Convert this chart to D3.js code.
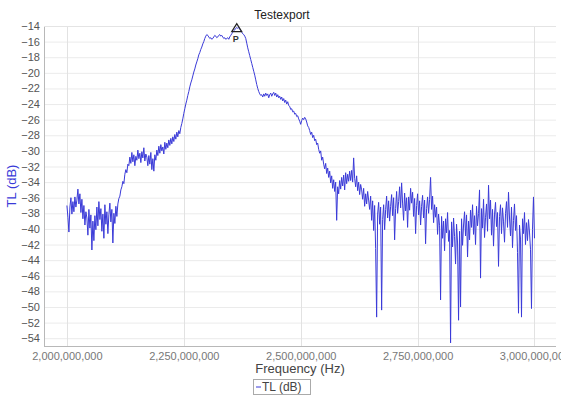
<!DOCTYPE html>
<html>
<head>
<meta charset="utf-8">
<script src="https://cdn.jsdelivr.net/npm/d3@7"></script>
<style>
  html, body { margin: 0; padding: 0; background: #fff; }
  svg { display: block; font-family: "Liberation Sans", Arial, sans-serif; }
</style>
</head>
<body>
<svg id="chart" width="561" height="399"></svg>
<script>
// Sweep definition (Hz)
const sweepStart = 2000000000;
const sweepStop = 3000000000;

// Axis ticks
const xTicks = [2000000000, 2250000000, 2500000000, 2750000000, 3000000000];
const yTicks = [-54, -52, -50, -48, -46, -44, -42, -40, -38, -36, -34, -32, -30, -28, -26, -24, -22, -20, -18, -16, -14];

// Measured transmission loss along the sweep (dB)
const tlLow = [
  -37.0, -38.5, -40.4, -37.2, -36.0, -38.1, -36.5, -37.8, -35.9, -37.2,
  -36.3, -34.9, -36.8, -35.5, -37.9, -36.2, -38.7, -37.0, -39.5, -37.8,
  -38.6, -40.8, -37.5, -39.9, -38.2, -42.7, -39.0, -41.5, -38.3, -40.1,
  -37.2, -39.6, -36.5, -38.8, -37.4, -40.3, -38.1, -41.2, -36.9, -39.4,
  -37.8, -40.6, -38.2, -36.7, -39.1, -37.5, -41.8, -38.0, -39.3, -37.1,
  -38.4, -36.8, -36.1,
  -35.8, -35.0, -34.6, -33.9, -34.2, -33.0, -32.4, -32.8, -31.7, -31.9
];
const tlShelf = [
  -30.8, -31.6, -30.2, -31.4, -30.5, -31.9, -30.7, -31.2, -29.9, -31.0,
  -30.3, -31.5, -30.1, -30.9, -29.6, -31.3, -30.4, -30.8, -31.9, -30.6,
  -31.7, -30.2, -32.4, -31.0, -32.6, -30.5, -31.2, -29.9, -30.6, -29.4,
  -30.3, -29.2, -30.0, -29.5, -30.4, -28.9, -29.8, -29.0, -29.6, -28.6,
  -29.3, -28.4, -29.1, -28.2, -28.8, -27.9, -28.5, -27.6, -28.2, -27.4,
  -27.8, -27.0
];
const tlPassband = [
  -26.5, -25.9, -25.2, -24.6, -24.0, -23.5, -22.9, -22.4, -21.8, -21.3,
  -20.9, -20.4, -19.9, -19.5, -19.0, -18.6, -18.2, -17.7, -17.4, -17.0,
  -16.7, -16.3, -16.0, -15.6, -15.3, -15.1,
  -15.2, -15.4, -15.6, -15.5, -15.7, -15.6, -15.4, -15.2, -15.3, -15.5,
  -15.4, -15.2, -15.1, -15.3, -15.2, -15.4, -15.6, -15.5, -15.7, -15.6,
  -15.5, -15.7, -15.4, -15.2, -15.0, -14.8, -14.6, -14.5, -14.3, -14.2,
  -14.3, -14.2, -14.4, -14.6, -14.8, -15.0, -15.1, -15.3, -15.6, -16.2,
  -16.8, -17.3, -17.8, -18.3, -18.8, -19.3, -19.8, -20.3, -20.9, -21.5,
  -22.0, -22.4, -22.7, -22.9,
  -22.8, -23.1, -22.7, -23.0, -22.6, -22.9, -22.7, -23.2, -22.8, -22.6,
  -23.0, -22.7, -22.5, -22.9, -22.6, -23.1, -22.8, -23.2, -23.0, -23.4,
  -23.1, -23.6, -23.3, -23.8, -23.5, -24.0, -23.7, -24.2
];
const tlRolloff = [
  -24.3, -24.7, -24.6, -25.0, -24.9, -25.3, -25.2, -25.6, -25.5, -25.9,
  -26.2, -26.6, -26.1, -25.8, -26.0, -25.7, -25.9, -26.3, -26.8, -27.0,
  -27.4, -27.9, -27.6, -28.3, -28.0, -28.7, -28.5, -29.2, -29.0, -29.8,
  -30.3, -30.0, -31.2, -30.8, -31.7, -32.3, -31.6, -32.9, -32.2, -33.4,
  -32.6, -34.1, -33.2, -34.8, -33.7, -35.2, -34.0, -38.9, -34.6, -35.5,
  -33.8, -34.9, -33.4, -34.5, -33.1, -35.0, -32.8, -34.2, -33.0, -33.9,
  -32.6, -33.8, -32.5, -34.0, -30.9, -33.5, -34.6, -33.2, -35.1, -34.0,
  -35.6, -34.3, -35.0, -36.2, -34.8, -37.1, -35.5, -36.8, -35.2, -36.3
];
const tlHigh = [
  -37.5, -35.8, -38.9, -36.4, -40.2, -37.0, -42.5, -51.3, -38.1, -36.6,
  -39.4, -37.2, -50.4, -38.8, -36.9, -40.1, -37.5, -35.8, -38.6, -36.4,
  -39.0, -37.1, -35.6, -38.3, -36.0, -41.4, -37.4, -35.2, -38.0, -36.5,
  -34.6, -37.3, -34.1, -36.8, -38.9, -35.4, -37.7, -36.0, -39.8, -35.9,
  -37.6, -34.8, -36.7, -35.3, -38.4, -36.1, -40.6, -37.0, -35.5, -38.2,
  -36.4, -39.5, -37.1, -35.7, -38.6, -36.3, -41.9, -37.4, -35.9, -38.0,
  -36.2, -33.4, -37.5, -35.8, -39.2, -36.9, -38.5, -37.2, -40.7, -38.1,
  -39.6, -49.1, -38.4, -41.2, -39.0, -42.8, -38.7, -40.5, -37.9, -41.6,
  -40.2, -54.6, -39.1, -42.3, -38.6, -41.0, -44.5, -39.4, -41.8, -51.7,
  -40.3, -50.0, -38.7, -42.1, -39.5, -37.8, -40.9, -38.2, -43.6, -39.0,
  -41.4, -37.6, -39.8, -36.9, -40.7, -38.3, -42.0, -37.1, -39.6, -38.0,
  -35.0, -46.3, -37.4, -39.9, -36.2, -41.1, -38.5, -36.8, -40.3, -34.4,
  -38.7, -36.3, -40.8, -37.5, -42.2, -38.1, -36.6, -39.7, -37.9, -44.8,
  -38.4, -36.9, -40.6, -37.3, -39.1, -41.7, -38.0, -36.5, -39.8, -35.3,
  -38.6, -40.9, -37.2, -42.4, -38.9, -36.8, -40.2, -38.3, -43.0, -50.8,
  -39.5, -41.3, -51.3, -38.7, -40.6, -37.9, -42.0, -39.2, -41.5, -38.8,
  -40.4, -42.6, -50.2, -40.1, -35.9, -41.2
];

const tlDb = [...tlLow, ...tlShelf, ...tlPassband, ...tlRolloff, ...tlHigh];
const freqStep = (sweepStop - sweepStart) / (tlDb.length - 1);
const series = tlDb.map((v, i) => ({ f: sweepStart + i * freqStep, v }));

const svg = d3.select("#chart");
const plot = { left: 44, top: 26, right: 556, bottom: 346 };

const x = d3.scaleLinear()
  .domain([1951000000, 3046000000])
  .range([plot.left, plot.right]);
const y = d3.scaleLinear()
  .domain([-55, -14])
  .range([plot.bottom, plot.top]);

const fmt = d3.format(",");

// Grid
svg.append("g").selectAll("line.h").data(yTicks).join("line")
  .attr("x1", plot.left).attr("x2", plot.right)
  .attr("y1", d => y(d) + 0.5).attr("y2", d => y(d) + 0.5)
  .attr("stroke", "#ebebeb").attr("stroke-width", 1);
svg.append("g").selectAll("line.v").data(xTicks).join("line")
  .attr("y1", plot.top).attr("y2", plot.bottom)
  .attr("x1", d => Math.round(x(d)) + 0.5).attr("x2", d => Math.round(x(d)) + 0.5)
  .attr("stroke", "#e2e2e2").attr("stroke-width", 1);

// Frame
svg.append("line")
  .attr("x1", plot.left + 0.5).attr("x2", plot.left + 0.5)
  .attr("y1", plot.top).attr("y2", plot.bottom)
  .attr("stroke", "#b8b8b8");
svg.append("line")
  .attr("x1", plot.left).attr("x2", plot.right)
  .attr("y1", plot.bottom + 0.5).attr("y2", plot.bottom + 0.5)
  .attr("stroke", "#b8b8b8");
svg.append("line")
  .attr("x1", plot.left).attr("x2", plot.right)
  .attr("y1", plot.top + 0.5).attr("y2", plot.top + 0.5)
  .attr("stroke", "#e4e4e4");

// Axes
const yAxis = d3.axisLeft(y).tickValues(yTicks).tickSize(0).tickPadding(4);
const gy = svg.append("g").attr("transform", `translate(${plot.left},0)`).call(yAxis);
gy.select(".domain").remove();
gy.selectAll("text").attr("font-size", 11).attr("fill", "#555")
  .attr("font-family", "Liberation Sans, Arial, sans-serif");

const xAxis = d3.axisBottom(x).tickValues(xTicks).tickSize(0).tickPadding(6).tickFormat(fmt);
const gx = svg.append("g").attr("transform", `translate(0,${plot.bottom})`).call(xAxis);
gx.select(".domain").remove();
gx.selectAll("text").attr("font-size", 11).attr("fill", "#777")
  .attr("font-family", "Liberation Sans, Arial, sans-serif");

// Trace
const line = d3.line().x(d => x(d.f)).y(d => y(d.v));
svg.append("path")
  .datum(series)
  .attr("d", line)
  .attr("fill", "none")
  .attr("stroke", "#3a3ad8")
  .attr("stroke-width", 1)
  .attr("stroke-linejoin", "round");

// Peak marker
const peak = series.reduce((a, b) => (b.v > a.v ? b : a));
const px = x(peak.f), py = y(peak.v);
svg.append("path")
  .attr("d", `M${px - 5},${py + 4} L${px},${py - 4} L${px + 5},${py + 4} Z`)
  .attr("fill", "none").attr("stroke", "#222").attr("stroke-width", 1.2);
svg.append("text")
  .attr("x", px - 1).attr("y", py + 14)
  .attr("text-anchor", "middle")
  .attr("font-size", 9).attr("font-weight", "bold").attr("fill", "#333")
  .text("P");

// Titles
svg.append("text")
  .attr("x", 282).attr("y", 19)
  .attr("text-anchor", "middle")
  .attr("font-size", 12).attr("fill", "#222")
  .text("Testexport");

svg.append("text")
  .attr("transform", `translate(16,${(plot.top + plot.bottom) / 2}) rotate(-90)`)
  .attr("text-anchor", "middle")
  .attr("font-size", 13).attr("fill", "#3a3ad8")
  .text("TL (dB)");

svg.append("text")
  .attr("x", 300).attr("y", 373)
  .attr("text-anchor", "middle")
  .attr("font-size", 13).attr("fill", "#444")
  .text("Frequency (Hz)");

// Legend
const lg = svg.append("g").attr("transform", "translate(253,379)");
lg.append("rect")
  .attr("x", 0.5).attr("y", 0.5).attr("width", 57).attr("height", 15)
  .attr("fill", "#fff").attr("stroke", "#aaa");
lg.append("line")
  .attr("x1", 3).attr("x2", 8).attr("y1", 8).attr("y2", 8)
  .attr("stroke", "#3a3ad8").attr("stroke-width", 1);
lg.append("text")
  .attr("x", 9).attr("y", 12)
  .attr("font-size", 12).attr("fill", "#444")
  .text("TL (dB)");
</script>
</body>
</html>
